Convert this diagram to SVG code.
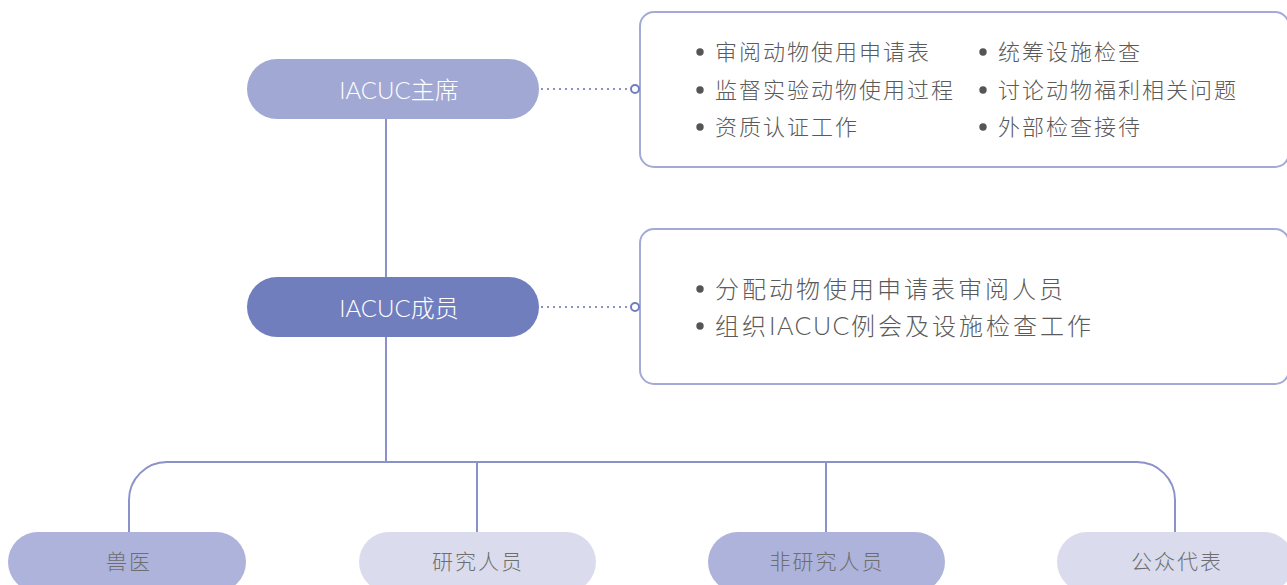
<svg xmlns="http://www.w3.org/2000/svg" width="1287" height="585" viewBox="0 0 1287 585">
<style>
.conn{fill:none;stroke:#8b92c9;stroke-width:2}
.dot{fill:none;stroke:#8b92c9;stroke-width:2;stroke-dasharray:2 4}
.port{fill:#fff;stroke:#717ebe;stroke-width:2}
.box{fill:#fff;stroke:#a3aad6;stroke-width:2}
.nt{font-family:"Lato","Noto Sans CJK SC",sans-serif;font-weight:300;font-size:24px;fill:#fff;text-anchor:middle;dominant-baseline:central}
.bt{font-family:"Noto Sans CJK SC",sans-serif;font-weight:300;font-size:21px;fill:#6e6e6e;text-anchor:middle;dominant-baseline:central;letter-spacing:2px}
.lt{font-family:"Lato","Noto Sans CJK SC",sans-serif;font-weight:300;font-size:22px;fill:#5a5a5a;dominant-baseline:central;letter-spacing:2px}
.lt2{font-family:"Lato","Noto Sans CJK SC",sans-serif;font-weight:300;font-size:24px;fill:#5a5a5a;dominant-baseline:central;letter-spacing:3px}
.lat{letter-spacing:1.5px;font-size:25px}
.bl{fill:#555}
</style>
<g id="connectors">
<line class="conn" x1="386" y1="119" x2="386" y2="277"/>
<line class="conn" x1="386" y1="337" x2="386" y2="462"/>
<path class="conn" d="M129 532 V500 A38 38 0 0 1 167 462 H1137 A38 38 0 0 1 1175 500 V532"/>
<line class="conn" x1="477" y1="462" x2="477" y2="532"/>
<line class="conn" x1="826" y1="462" x2="826" y2="532"/>
<line class="dot" x1="541" y1="89" x2="631" y2="89"/>
<line class="dot" x1="541" y1="307" x2="631" y2="307"/>
</g>
<g id="box-chair">
<rect class="box" x="640" y="12" width="649" height="155" rx="14"/>
<circle class="port" cx="635" cy="89" r="4"/>
<circle class="bl" cx="700" cy="52" r="3.7"/>
<text class="lt" x="715" y="51">审阅动物使用申请表</text>
<circle class="bl" cx="700" cy="90" r="3.7"/>
<text class="lt" x="715" y="89">监督实验动物使用过程</text>
<circle class="bl" cx="700" cy="127" r="3.7"/>
<text class="lt" x="715" y="126">资质认证工作</text>
<circle class="bl" cx="983" cy="52" r="3.7"/>
<text class="lt" x="998" y="51">统筹设施检查</text>
<circle class="bl" cx="983" cy="90" r="3.7"/>
<text class="lt" x="998" y="89">讨论动物福利相关问题</text>
<circle class="bl" cx="983" cy="127" r="3.7"/>
<text class="lt" x="998" y="126">外部检查接待</text>
</g>
<g id="box-member">
<rect class="box" x="640" y="229" width="649" height="155" rx="14"/>
<circle class="port" cx="635" cy="307" r="4"/>
<circle class="bl" cx="700" cy="289" r="3.7"/>
<text class="lt2" x="715" y="288">分配动物使用申请表审阅人员</text>
<circle class="bl" cx="700" cy="326" r="3.7"/>
<text class="lt2" x="715" y="325">组织<tspan class="lat">IACUC</tspan>例会及设施检查工作</text>
</g>
<g id="node-chair">
<rect x="247" y="59" width="292" height="60" rx="30" fill="#a1a8d4"/>
<text class="nt" x="399" y="89">IACUC主席</text>
</g>
<g id="node-member">
<rect x="247" y="277" width="292" height="60" rx="30" fill="#717ebe"/>
<text class="nt" x="399" y="307">IACUC成员</text>
</g>
<g id="node-vet">
<rect x="8" y="532" width="238" height="60" rx="30" fill="#adb3da"/>
<text class="bt" x="129" y="560">兽医</text>
</g>
<g id="node-researcher">
<rect x="359" y="532" width="237" height="60" rx="30" fill="#dadcee"/>
<text class="bt" x="478" y="560">研究人员</text>
</g>
<g id="node-nonresearcher">
<rect x="708" y="532" width="237" height="60" rx="30" fill="#adb3da"/>
<text class="bt" x="827" y="560">非研究人员</text>
</g>
<g id="node-public">
<rect x="1057" y="532" width="237" height="60" rx="30" fill="#dadcee"/>
<text class="bt" x="1177" y="560">公众代表</text>
</g>
</svg>
